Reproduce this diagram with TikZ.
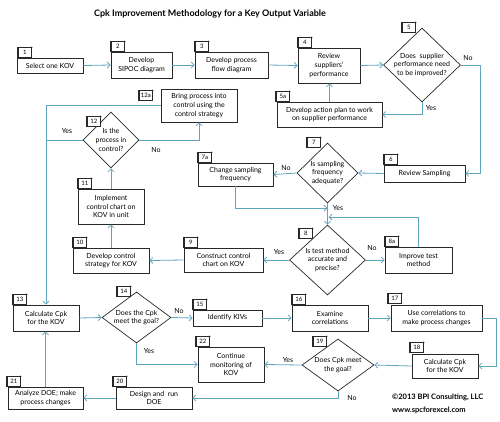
\documentclass[tikz,border=0pt]{standalone}
\usepackage{fontspec}
\setmainfont{Lato}
\usetikzlibrary{shapes.geometric,arrows.meta}
\definecolor{connc}{RGB}{95,165,190}
\definecolor{edgec}{RGB}{40,40,40}
\tikzset{
 box/.style={draw=edgec, line width=0.7pt, align=center, inner sep=1pt, font=\fontsize{7}{8.8}\selectfont},
 diam/.style={draw=edgec, line width=0.7pt, diamond, inner sep=0pt},
 dtext/.style={align=center, inner sep=0pt, font=\fontsize{7}{8.8}\selectfont},
 tagbox/.style={draw=edgec, line width=0.6pt, fill=white, minimum height=10pt, minimum width=13pt, inner sep=1pt, font=\fontsize{6}{7}\selectfont, anchor=south west},
 conn/.style={draw=connc, line width=0.8pt, -{Straight Barb[length=3pt,width=6pt]}},
 plainline/.style={draw=connc, line width=0.8pt},
 lbl/.style={font=\fontsize{7}{8}\selectfont, inner sep=0pt},
}
\newcommand\tagn[3]{\node[tagbox] (#1) at (#2) {#3};
 \draw[edgec, line width=1.4pt] (#1.south west) -- (#1.north west);
 \fill[edgec] (#1.north east) circle (0.9pt);}
\begin{document}
\begin{tikzpicture}[x=1pt,y=-1pt]
\useasboundingbox (0,0) rectangle (500,421);
\node[font=\bfseries\fontsize{9}{10}\selectfont, inner sep=0pt] (title) at (210,14) {Cpk Improvement Methodology for a Key Output Variable};

% boxes
\node[box, minimum width=66pt, minimum height=15pt] (b1) at (50,65.5) {Select one KOV};
\node[box, minimum width=61pt, minimum height=26pt] (b2) at (141.5,65) {Develop\\SIPOC diagram};
\node[box, minimum width=73pt, minimum height=26pt] (b3) at (231.5,65) {Develop process\\flow diagram};
\node[box, minimum width=62pt, minimum height=35pt] (b4) at (329,65.5) {Review\\suppliers'\\performance};
\node[diam, minimum width=77pt, minimum height=74pt] (d5) at (422,65) {};
\node[dtext] (d5t) at (d5) {Does\ \ supplier\\performance need\\to be improved?};
\node[box, minimum width=105pt, minimum height=25pt] (b5a) at (329.5,114.5) {Develop action plan to work\\on supplier performance};
\node[box, minimum width=81pt, minimum height=17pt] (b6) at (424.5,173.5) {Review Sampling};
\node[diam, minimum width=61pt, minimum height=60pt] (d7) at (327.5,173) {};
\node[dtext] (d7t) at (d7) {Is sampling\\frequency\\adequate?};
\node[box, minimum width=75pt, minimum height=23pt] (b7a) at (235.5,174.5) {Change sampling\\frequency};
\node[diam, minimum width=76pt, minimum height=70pt] (d8) at (327.5,260) {};
\node[dtext] (d8t) at (d8) {Is test method\\accurate and\\precise?};
\node[box, minimum width=67pt, minimum height=26pt] (b8a) at (418.5,260) {Improve test\\method};
\node[box, minimum width=79pt, minimum height=24pt] (b9) at (223.5,260) {Construct control\\chart on KOV};
\node[box, minimum width=76pt, minimum height=25pt] (b10) at (111,260.5) {Develop control\\strategy for KOV};
\node[box, minimum width=66pt, minimum height=35pt] (b11) at (111,206.5) {Implement\\control chart on\\KOV in unit};
\node[diam, minimum width=56pt, minimum height=56pt] (d12) at (111,140) {};
\node[dtext] (d12t) at (d12) {Is the\\process in\\control?};
\node[box, minimum width=76pt, minimum height=33pt] (b12a) at (199,105.5) {Bring process into\\control using the\\control strategy};
\node[box, minimum width=66pt, minimum height=26pt] (b13) at (46,318) {Calculate Cpk\\for the KOV};
\node[diam, minimum width=69pt, minimum height=51pt] (d14) at (136.5,317.5) {};
\node[dtext] (d14t) at (d14) {Does the Cpk\\meet the goal?};
\node[box, minimum width=69pt, minimum height=16pt] (b15) at (227.5,318) {Identify KIVs};
\node[box, minimum width=76pt, minimum height=26pt] (b16) at (330,318) {Examine\\correlations};
\node[box, minimum width=91pt, minimum height=26pt] (b17) at (436.5,318) {Use correlations to\\make process changes};
\node[box, minimum width=66pt, minimum height=24pt] (b18) at (445,366) {Calculate Cpk\\for the KOV};
\node[diam, minimum width=72pt, minimum height=52pt] (d19) at (338,365) {};
\node[dtext] (d19t) at (d19) {Does Cpk meet\\the goal?};
\node[box, minimum width=66pt, minimum height=35pt] (b22) at (231,364.5) {Continue\\monitoring of\\KOV};
\node[box, minimum width=76pt, minimum height=22pt] (b20) at (154,398) {Design and\ \ run\\DOE};
\node[box, minimum width=75pt, minimum height=22pt] (b21) at (45.5,398) {Analyze DOE; make\\process changes};

% tags
\tagn{t1}{18,58}{1}
\tagn{t2}{111,52}{2}
\tagn{t3}{195,52}{3}
\tagn{t4}{298,48}{4}
\tagn{t5}{402,33}{5}
\tagn{t5a}{276,102}{5a}
\tagn{t6}{384,165}{6}
\tagn{t7}{307,148}{7}
\tagn{t7a}{198,163}{7a}
\tagn{t8}{299,239}{8}
\tagn{t8a}{385,247}{8a}
\tagn{t9}{184,248}{9}
\tagn{t10}{73,248}{10}
\tagn{t11}{78,189}{11}
\tagn{t12}{87,127}{12}
\tagn{t12a}{139,101}{12a}
\tagn{t13}{13,305}{13}
\tagn{t14}{117,297}{14}
\tagn{t15}{193,310}{15}
\tagn{t16}{292,305}{16}
\tagn{t17}{388,304}{17}
\tagn{t18}{410,353}{18}
\tagn{t19}{313,347}{19}
\tagn{t20}{113,387}{20}
\tagn{t21}{7,387}{21}
\tagn{t22}{196,347}{22}

% connectors
\draw[conn] (b1.east) -- (b2.west);
\draw[conn] (b2.east) -- (b3.west);
\draw[conn] (b3.east) -- (b4.west);
\draw[conn] (b4.east) -- (d5.west);
\draw[conn] (d5.east) -- ++(20,0) |- (b6.east);
\draw[conn] (d5.south) |- (b5a.east);
\draw[conn] (b5a.north) -- (b5a.north |- b4.south);
\draw[conn] (b6.west) -- (d7.east);
\draw[conn] (d7.west) -- (b7a.east);
\coordinate (j1) at (327.5,208);
\draw[conn] (b7a.south) |- (j1);
\draw[conn] (d7.south) -- (d8.north);
\coordinate (j2) at (328.5,217);
\draw[conn] (b8a.north) |- (j2);
\draw[conn] (d8.east) -- (b8a.west);
\draw[conn] (d8.west) -- (b9.east);
\draw[conn] (b9.west) -- (b10.east);
\draw[conn] (b10.north) -- (b11.south);
\draw[conn] (b11.north) -- (d12.south);
\draw[conn] (d12.east) -| (b12a.south);
\draw[conn] (b12a.west) -| (b13.north);
\draw[plainline] (d12.west) -- (d12.west -| b13.north);
\draw[conn] (b13.east) -- (d14.west);
\draw[conn] (d14.east) -- (b15.west);
\draw[conn] (d14.south) |- (b22.west);
\draw[conn] (b15.east) -- (b16.west);
\draw[conn] (b16.east) -- (b17.west);
\draw[conn] (b17.east) -- ++(14,0) |- (b18.east);
\draw[conn] (b18.west) -- (d19.east);
\draw[conn] (d19.west) -- (b22.east);
\draw[conn] (d19.south) |- (b20.east);
\draw[conn] (b20.west) -- (b21.east);
\draw[conn] (b21.north) -- (b21.north |- b13.south);

% labels
\node[lbl] (l5n) at (468,58) {No};
\node[lbl] (l5y) at (431,108) {Yes};
\node[lbl] (l7n) at (286,168) {No};
\node[lbl] (l7y) at (338,208) {Yes};
\node[lbl] (l12y) at (67,131) {Yes};
\node[lbl] (l12n) at (156,150) {No};
\node[lbl] (l8n) at (372,248) {No};
\node[lbl] (l8y) at (279,252) {Yes};
\node[lbl] (l14n) at (179,311) {No};
\node[lbl] (l14y) at (149,351) {Yes};
\node[lbl] (l19y) at (288,360) {Yes};
\node[lbl] (l19n) at (352,398) {No};

\node[font=\bfseries\fontsize{7.5}{12.5}\selectfont, align=left, anchor=north west, inner sep=0pt] (copy) at (392,394) {©2013 BPI Consulting, LLC\\www.spcforexcel.com};
\end{tikzpicture}
\end{document}
